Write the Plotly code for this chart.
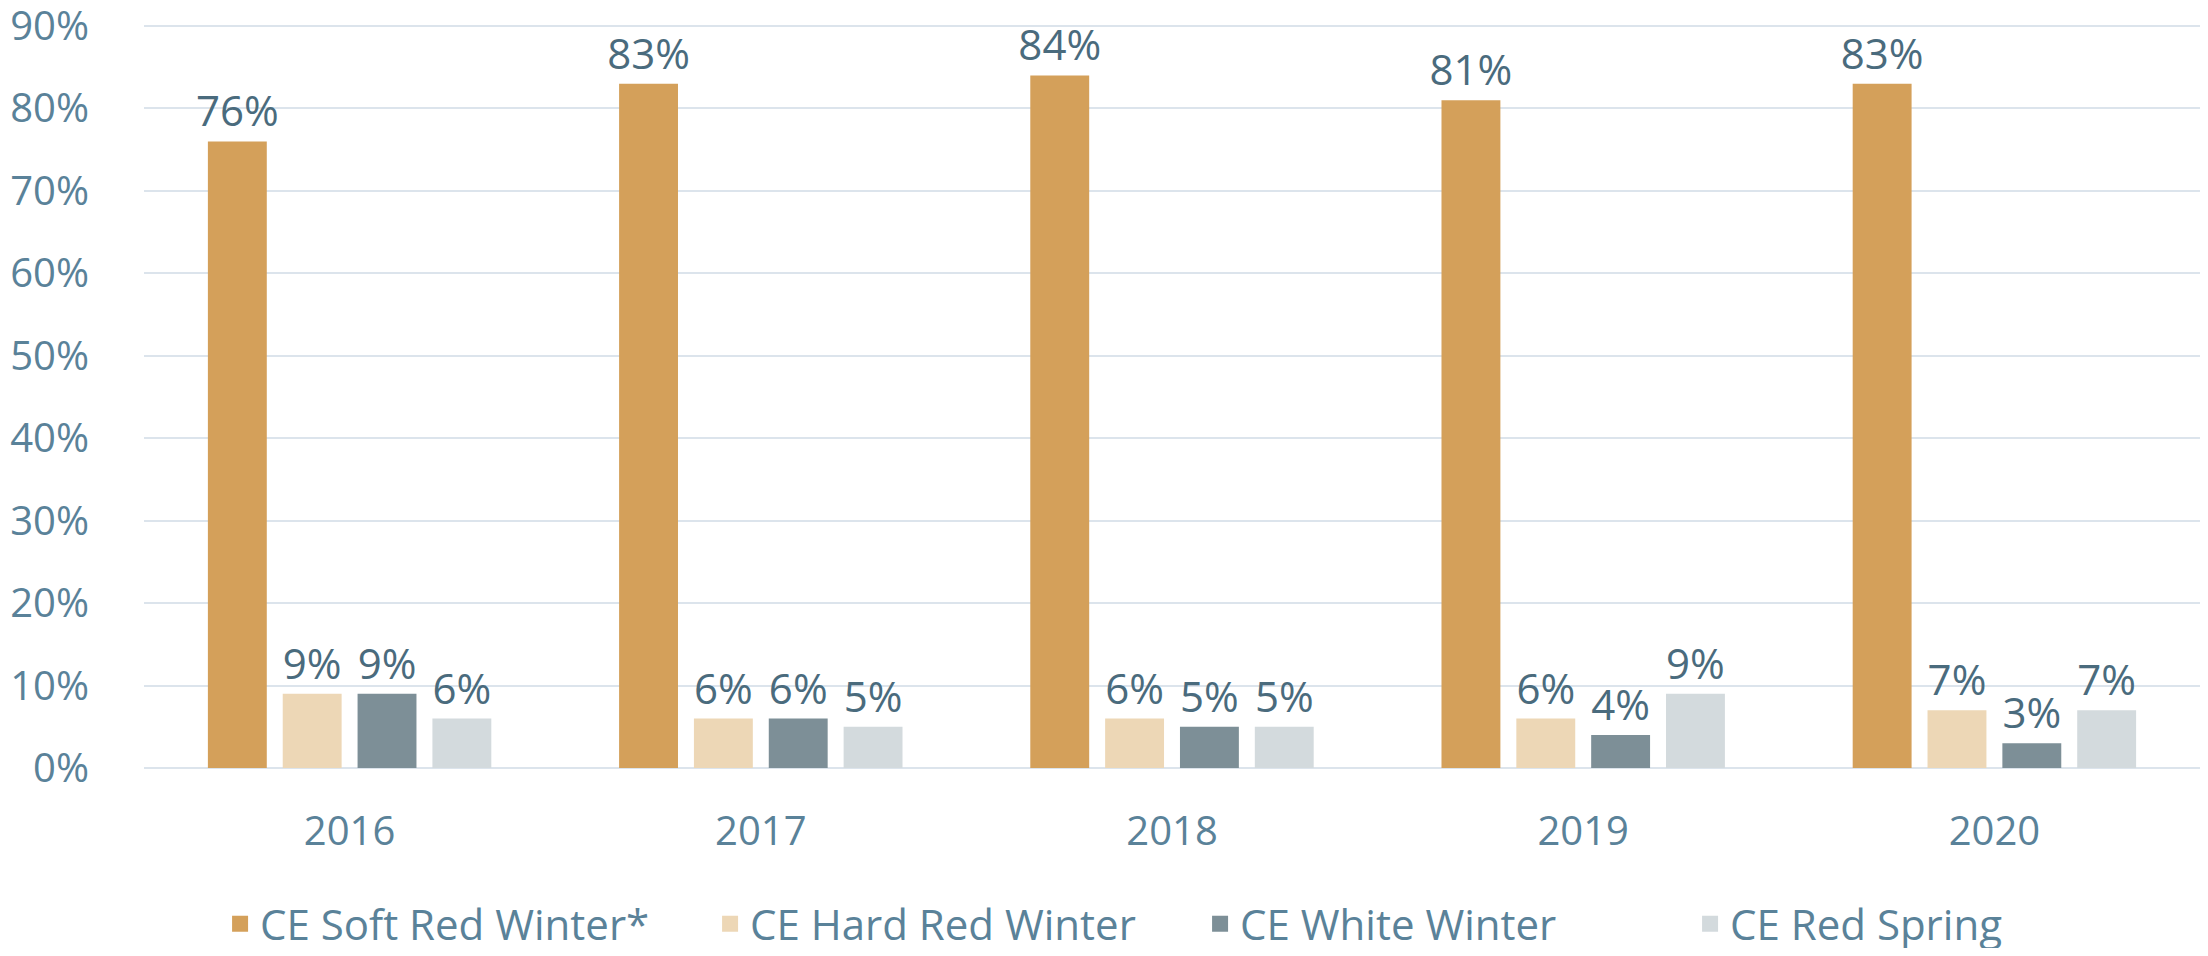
import plotly.graph_objects as go

years = ["2016", "2017", "2018", "2019", "2020"]
series_names = ["CE Soft Red Winter*", "CE Hard Red Winter", "CE White Winter", "CE Red Spring"]
soft_red_winter = [76, 83, 84, 81, 83]
hard_red_winter = [9, 6, 6, 6, 7]
white_winter = [9, 6, 5, 4, 3]
red_spring = [6, 5, 5, 9, 7]
colors = ["#D4A05A", "#EDD7B6", "#7D8F97", "#D3DADD"]
y_ticks = [0, 10, 20, 30, 40, 50, 60, 70, 80, 90]

fig = go.Figure()
for name, vals, col in zip(series_names, [soft_red_winter, hard_red_winter, white_winter, red_spring], colors):
    fig.add_trace(go.Bar(
        x=years, y=vals, name=name, legendgroup=name, showlegend=False,
        marker=dict(color=col, line=dict(width=0)),
        text=[f"{v}%" for v in vals],
        textposition="outside",
        constraintext="none",
        textfont=dict(family="Open Sans", size=42, color="#4A6B7D"),
        cliponaxis=False,
    ))
# legend entries with larger square swatches
for name, col in zip(series_names, colors):
    fig.add_trace(go.Scatter(
        x=[None], y=[None], mode="markers", name=name, legendgroup=name,
        marker=dict(symbol="square", size=16, color=col),
        showlegend=True,
    ))

fig.update_layout(
    width=2192, height=940,
    paper_bgcolor="white", plot_bgcolor="white",
    barmode="group", bargap=0.272, bargroupgap=0.213,
    margin=dict(l=136, r=0, t=3, b=180, autoexpand=False),
    font=dict(family="Open Sans", color="#5A8299"),
    showlegend=True,
    legend=dict(
        orientation="h", x=0.037, xanchor="left", y=-0.206, yanchor="middle",
        font=dict(family="Open Sans", size=42, color="#5A8299"),
        entrywidth=445, entrywidthmode="pixels",
        itemwidth=30,
    ),
    xaxis=dict(
        showgrid=False, showline=False, zeroline=False, automargin=False,
        tickfont=dict(family="Open Sans", size=40, color="#5A8299"),
        ticks="", ticklabelstandoff=36,
    ),
    yaxis=dict(
        range=[0, 91.82], tickvals=y_ticks, ticktext=[f"{v}%" for v in y_ticks],
        automargin=False, ticklabeloverflow="allow",
        showgrid=True, gridcolor="#DCE4EC", gridwidth=2,
        zeroline=True, zerolinecolor="#DCE4EC", zerolinewidth=2,
        showline=False, ticks="",
        tickfont=dict(family="Open Sans", size=40, color="#5A8299"),
        ticklabelstandoff=54,
    ),
)

fig.write_html("out.html")
